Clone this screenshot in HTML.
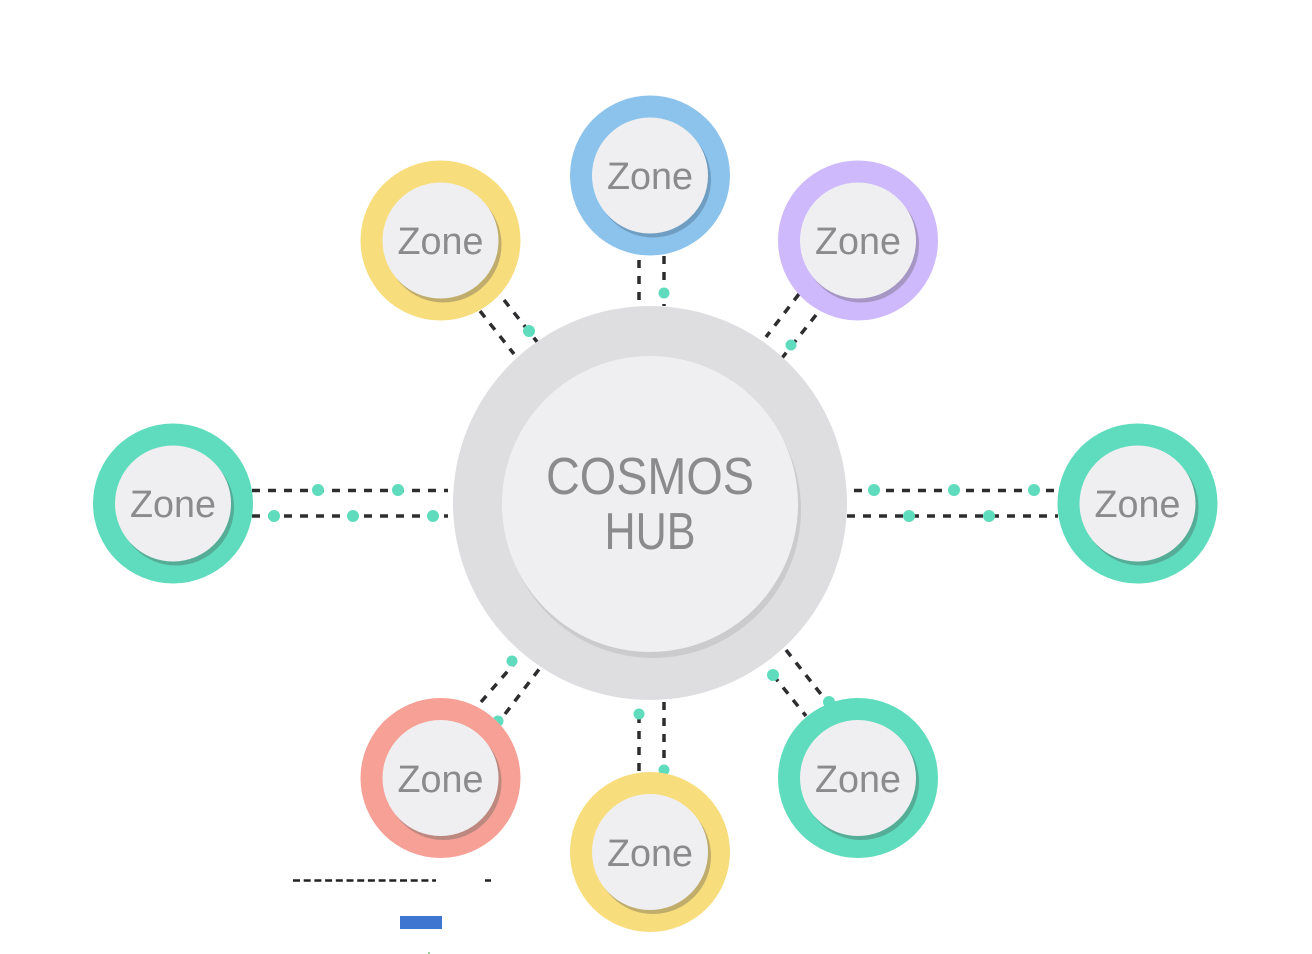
<!DOCTYPE html>
<html>
<head>
<meta charset="utf-8">
<style>
html,body{margin:0;padding:0;background:#fff;width:1312px;height:954px;overflow:hidden}
svg{display:block}
text{font-family:"Liberation Sans",sans-serif;fill:#8b8b8d;text-anchor:middle}
.z{font-size:38px}
.h{font-size:52px}
.l{stroke:#2d2d2f;stroke-width:3.5;stroke-dasharray:8 8;fill:none}
.d{fill:#5fdcbd}
.i{fill:#efeff1}
</style>
</head>
<body>
<svg width="1312" height="954" viewBox="0 0 1312 954" xmlns="http://www.w3.org/2000/svg">
<!-- connectors -->
<path class="l" d="M252 490.500H448M252 516H448"/>
<path class="l" d="M854 490.500H1058M847 516H1058"/>
<path class="l" d="M639 260V302M664 256V306"/>
<path class="l" d="M639 771V714M664 702V770"/>
<path class="l" d="M480 311L514 354M504 300L538 343"/>
<path class="l" d="M799 294L766 337M816 315L782 358"/>
<path class="l" d="M481 702L513 665M505 714L540 668"/>
<path class="l" d="M786 650L824 698M773 675L806 716"/>
<!-- hub -->
<circle cx="650" cy="503" r="197" fill="#dedee1"/>
<circle cx="653" cy="510" r="148" fill="#cbcbce"/>
<circle cx="650" cy="504" r="148" class="i"/>
<text class="h" x="650" y="494" textLength="208" lengthAdjust="spacingAndGlyphs">COSMOS</text>
<text class="h" x="650" y="549" textLength="91" lengthAdjust="spacingAndGlyphs">HUB</text>
<!-- connector dots -->
<g class="d">
<circle cx="318" cy="490" r="6"/><circle cx="398" cy="490" r="6"/>
<circle cx="274" cy="516" r="6"/><circle cx="353" cy="516" r="6"/><circle cx="433" cy="516" r="6"/>
<circle cx="874" cy="490" r="6"/><circle cx="954" cy="490" r="6"/><circle cx="1034" cy="490" r="6"/>
<circle cx="909" cy="516" r="6"/><circle cx="989" cy="516" r="6"/>
<circle cx="664" cy="293" r="5.5"/><circle cx="529" cy="331" r="6"/><circle cx="791" cy="345" r="5.5"/>
<circle cx="512" cy="661" r="5.5"/><circle cx="498" cy="721" r="5.5"/>
<circle cx="639" cy="714" r="5.5"/><circle cx="664" cy="770" r="5.5"/>
<circle cx="773" cy="675" r="6"/><circle cx="829" cy="702" r="6"/>
</g>
<!-- zones -->
<circle cx="650" cy="175.500" r="80" fill="#8cc3ec"/>
<circle cx="653" cy="179.500" r="58" fill="#6f9ec2"/>
<circle cx="650" cy="175.500" r="58" class="i"/>
<text class="z" x="650" y="189" textLength="86" lengthAdjust="spacingAndGlyphs">Zone</text>

<circle cx="440.500" cy="240.500" r="80" fill="#f8dd7c"/>
<circle cx="443.500" cy="244.500" r="58" fill="#c0ad6c"/>
<circle cx="440.500" cy="240.500" r="58" class="i"/>
<text class="z" x="440.500" y="254" textLength="86" lengthAdjust="spacingAndGlyphs">Zone</text>

<circle cx="858" cy="240.500" r="80" fill="#cdb9fb"/>
<circle cx="861" cy="244.500" r="58" fill="#a596c4"/>
<circle cx="858" cy="240.500" r="58" class="i"/>
<text class="z" x="858" y="254" textLength="86" lengthAdjust="spacingAndGlyphs">Zone</text>

<circle cx="173" cy="503.500" r="80" fill="#5fdcbd"/>
<circle cx="176" cy="507.500" r="58" fill="#55ad98"/>
<circle cx="173" cy="503.500" r="58" class="i"/>
<text class="z" x="173" y="517" textLength="86" lengthAdjust="spacingAndGlyphs">Zone</text>

<circle cx="1137.500" cy="503.500" r="80" fill="#5fdcbd"/>
<circle cx="1140.500" cy="507.500" r="58" fill="#55ad98"/>
<circle cx="1137.500" cy="503.500" r="58" class="i"/>
<text class="z" x="1137.500" y="517" textLength="86" lengthAdjust="spacingAndGlyphs">Zone</text>

<circle cx="440.500" cy="778" r="80" fill="#f6a096"/>
<circle cx="443.500" cy="782" r="58" fill="#bd8880"/>
<circle cx="440.500" cy="778" r="58" class="i"/>
<text class="z" x="440.500" y="792" textLength="86" lengthAdjust="spacingAndGlyphs">Zone</text>

<circle cx="650" cy="852" r="80" fill="#f8dd7c"/>
<circle cx="653" cy="856" r="58" fill="#c0ad6c"/>
<circle cx="650" cy="852" r="58" class="i"/>
<text class="z" x="650" y="866" textLength="86" lengthAdjust="spacingAndGlyphs">Zone</text>

<circle cx="858" cy="778" r="80" fill="#5fdcbd"/>
<circle cx="861" cy="782" r="58" fill="#55ad98"/>
<circle cx="858" cy="778" r="58" class="i"/>
<text class="z" x="858" y="792" textLength="86" lengthAdjust="spacingAndGlyphs">Zone</text>
<!-- stray legend marks -->
<path d="M293 880.500H436" stroke="#222" stroke-width="2.500" stroke-dasharray="7 3.700" fill="none"/>
<path d="M485 880.500H491" stroke="#222" stroke-width="2.500" fill="none"/>
<rect x="400" y="916" width="42" height="13" fill="#3f76cf"/>
<rect x="428" y="952" width="2" height="2" fill="#9ccf9c"/>
</svg>
</body>
</html>
